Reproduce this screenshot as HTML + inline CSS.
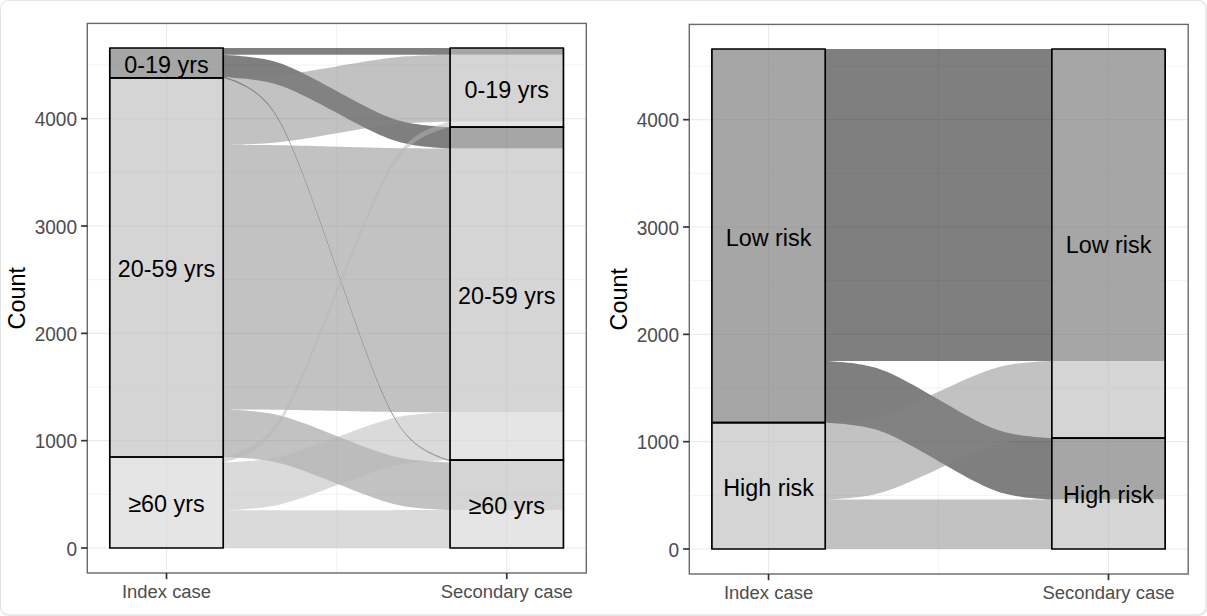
<!DOCTYPE html>
<html><head><meta charset="utf-8"><title>Alluvial</title>
<style>html,body{margin:0;padding:0;background:#fff}svg{display:block}text{font-family:"Liberation Sans",sans-serif}</style>
</head><body>
<svg width="1207" height="616" viewBox="0 0 1207 616">
<rect x="0" y="0" width="1207" height="616" fill="#fff"/>
<rect x="0" y="0" width="1207" height="616" rx="8.5" ry="8.5" fill="#e5e5e5"/>
<rect x="1" y="0.9" width="1204.5" height="613.4" rx="7.6" ry="7.6" fill="#fff"/>
<rect x="87.3" y="23.4" width="499" height="549.6" fill="#fff"/>
<line x1="87.3" x2="586.3" y1="494.33" y2="494.33" stroke="#ebebeb" stroke-width="0.6"/>
<line x1="87.3" x2="586.3" y1="387" y2="387" stroke="#ebebeb" stroke-width="0.6"/>
<line x1="87.3" x2="586.3" y1="279.68" y2="279.68" stroke="#ebebeb" stroke-width="0.6"/>
<line x1="87.3" x2="586.3" y1="172.35" y2="172.35" stroke="#ebebeb" stroke-width="0.6"/>
<line x1="87.3" x2="586.3" y1="65.02" y2="65.02" stroke="#ebebeb" stroke-width="0.6"/>
<line x1="336.62" x2="336.62" y1="23.4" y2="573" stroke="#ebebeb" stroke-width="0.6"/>
<line x1="87.3" x2="586.3" y1="548" y2="548" stroke="#ebebeb" stroke-width="1.2"/>
<line x1="87.3" x2="586.3" y1="440.67" y2="440.67" stroke="#ebebeb" stroke-width="1.2"/>
<line x1="87.3" x2="586.3" y1="333.34" y2="333.34" stroke="#ebebeb" stroke-width="1.2"/>
<line x1="87.3" x2="586.3" y1="226.01" y2="226.01" stroke="#ebebeb" stroke-width="1.2"/>
<line x1="87.3" x2="586.3" y1="118.68" y2="118.68" stroke="#ebebeb" stroke-width="1.2"/>
<line x1="166.5" x2="166.5" y1="23.4" y2="573" stroke="#ebebeb" stroke-width="1.2"/>
<line x1="506.75" x2="506.75" y1="23.4" y2="573" stroke="#ebebeb" stroke-width="1.2"/>
<path d="M109.8,48 L223.2,48 L223.23,48 L223.46,48 L224.04,48 L225.09,48 L226.67,48 L228.82,48 L231.5,48 L234.64,48 L238.12,48 L241.84,48 L245.68,48 L249.54,48 L253.36,48 L257.07,48 L260.66,48 L264.11,48 L267.44,48 L270.65,48 L273.79,48 L276.87,48 L279.94,48 L283.02,48 L286.16,48 L289.36,48 L292.66,48 L296.07,48 L299.59,48 L303.25,48 L307.04,48 L310.97,48 L315.02,48 L319.19,48 L323.46,48 L327.8,48 L332.2,48 L336.62,48 L341.05,48 L345.45,48 L349.79,48 L354.06,48 L358.23,48 L362.28,48 L366.21,48 L370,48 L373.66,48 L377.18,48 L380.59,48 L383.89,48 L387.23,48 L390.5,48 L393.71,48 L396.91,48 L400.14,48 L403.43,48 L406.81,48 L410.33,48 L413.98,48 L417.78,48 L421.71,48 L425.72,48 L429.75,48 L433.69,48 L437.43,48 L440.83,48 L443.78,48 L446.16,48 L447.93,48 L449.1,48 L449.75,48 L450.01,48 L450.05,48 L563.45,48 L563.45,54.85 L450.05,54.85 L450.01,54.85 L449.75,54.85 L449.1,54.85 L447.93,54.85 L446.16,54.85 L443.78,54.85 L440.83,54.85 L437.43,54.85 L433.69,54.85 L429.75,54.85 L425.72,54.85 L421.71,54.85 L417.78,54.85 L413.98,54.85 L410.33,54.85 L406.81,54.85 L403.43,54.85 L400.14,54.85 L396.91,54.85 L393.71,54.85 L390.5,54.85 L387.23,54.85 L383.89,54.85 L380.59,54.85 L377.18,54.85 L373.66,54.85 L370,54.85 L366.21,54.85 L362.28,54.85 L358.23,54.85 L354.06,54.85 L349.79,54.85 L345.45,54.85 L341.05,54.85 L336.62,54.85 L332.2,54.85 L327.8,54.85 L323.46,54.85 L319.19,54.85 L315.02,54.85 L310.97,54.85 L307.04,54.85 L303.25,54.85 L299.59,54.85 L296.07,54.85 L292.66,54.85 L289.36,54.85 L286.16,54.85 L283.02,54.85 L279.94,54.85 L276.87,54.85 L273.79,54.85 L270.65,54.85 L267.44,54.85 L264.11,54.85 L260.66,54.85 L257.07,54.85 L253.36,54.85 L249.54,54.85 L245.68,54.85 L241.84,54.85 L238.12,54.85 L234.64,54.85 L231.5,54.85 L228.82,54.85 L226.67,54.85 L225.09,54.85 L224.04,54.85 L223.46,54.85 L223.23,54.85 L223.2,54.85 L109.8,54.85Z M109.8,54.85 L223.2,54.85 L223.23,54.85 L223.46,54.86 L224.04,54.89 L225.09,54.94 L226.67,55.02 L228.82,55.15 L231.5,55.32 L234.64,55.54 L238.12,55.81 L241.84,56.14 L245.68,56.51 L249.54,56.93 L253.36,57.4 L257.07,57.91 L260.66,58.48 L264.11,59.11 L267.44,59.79 L270.65,60.54 L273.79,61.36 L276.87,62.27 L279.94,63.27 L283.02,64.37 L286.16,65.58 L289.36,66.91 L292.66,68.35 L296.07,69.9 L299.59,71.57 L303.25,73.36 L307.04,75.27 L310.97,77.28 L315.02,79.4 L319.19,81.61 L323.46,83.89 L327.8,86.24 L332.2,88.62 L336.62,91.03 L341.05,93.43 L345.45,95.81 L349.79,98.16 L354.06,100.44 L358.23,102.65 L362.28,104.77 L366.21,106.78 L370,108.69 L373.66,110.48 L377.18,112.15 L380.59,113.7 L383.89,115.14 L387.23,116.52 L390.5,117.78 L393.71,118.92 L396.91,119.94 L400.14,120.87 L403.43,121.71 L406.81,122.48 L410.33,123.17 L413.98,123.8 L417.78,124.37 L421.71,124.88 L425.72,125.35 L429.75,125.76 L433.69,126.12 L437.43,126.42 L440.83,126.67 L443.78,126.86 L446.16,127 L447.93,127.1 L449.1,127.16 L449.75,127.19 L450.01,127.2 L450.05,127.2 L563.45,127.2 L563.45,148.5 L450.05,148.5 L450.01,148.5 L449.75,148.49 L449.1,148.46 L447.93,148.4 L446.16,148.31 L443.78,148.17 L440.83,147.98 L437.43,147.73 L433.69,147.43 L429.75,147.08 L425.72,146.67 L421.71,146.22 L417.78,145.71 L413.98,145.15 L410.33,144.53 L406.81,143.84 L403.43,143.09 L400.14,142.27 L396.91,141.35 L393.71,140.34 L390.5,139.22 L387.23,137.98 L383.89,136.62 L380.59,135.2 L377.18,133.67 L373.66,132.02 L370,130.26 L366.21,128.38 L362.28,126.39 L358.23,124.3 L354.06,122.13 L349.79,119.88 L345.45,117.57 L341.05,115.22 L336.62,112.85 L332.2,110.48 L327.8,108.13 L323.46,105.82 L319.19,103.57 L315.02,101.4 L310.97,99.31 L307.04,97.32 L303.25,95.44 L299.59,93.68 L296.07,92.03 L292.66,90.5 L289.36,89.08 L286.16,87.78 L283.02,86.58 L279.94,85.5 L276.87,84.51 L273.79,83.62 L270.65,82.81 L267.44,82.07 L264.11,81.39 L260.66,80.78 L257.07,80.22 L253.36,79.71 L249.54,79.25 L245.68,78.83 L241.84,78.47 L238.12,78.15 L234.64,77.88 L231.5,77.66 L228.82,77.49 L226.67,77.37 L225.09,77.29 L224.04,77.24 L223.46,77.21 L223.23,77.2 L223.2,77.2 L109.8,77.2Z M109.8,76.7 L223.2,76.7 L223.23,76.71 L223.46,76.76 L224.04,76.89 L225.09,77.17 L226.67,77.62 L228.82,78.28 L231.5,79.19 L234.64,80.36 L238.12,81.8 L241.84,83.5 L245.68,85.47 L249.54,87.7 L253.36,90.18 L257.07,92.92 L260.66,95.93 L264.11,99.23 L267.44,102.85 L270.65,106.81 L273.79,111.17 L276.87,115.98 L279.94,121.27 L283.02,127.1 L286.16,133.52 L289.36,140.53 L292.66,148.15 L296.07,156.37 L299.59,165.23 L303.25,174.7 L307.04,184.79 L310.97,195.46 L315.02,206.67 L319.19,218.36 L323.46,230.44 L327.8,242.85 L332.2,255.47 L336.62,268.2 L341.05,280.93 L345.45,293.55 L349.79,305.96 L354.06,318.04 L358.23,329.73 L362.28,340.94 L366.21,351.61 L370,361.7 L373.66,371.17 L377.18,380.03 L380.59,388.25 L383.89,395.87 L387.23,403.17 L390.5,409.83 L393.71,415.85 L396.91,421.29 L400.14,426.21 L403.43,430.66 L406.81,434.69 L410.33,438.35 L413.98,441.68 L417.78,444.7 L421.71,447.44 L425.72,449.89 L429.75,452.07 L433.69,453.97 L437.43,455.57 L440.83,456.88 L443.78,457.91 L446.16,458.66 L447.93,459.17 L449.1,459.48 L449.75,459.64 L450.01,459.69 L450.05,459.7 L563.45,459.7 L563.45,461.1 L450.05,461.1 L450.01,461.09 L449.75,461.04 L449.1,460.88 L447.93,460.57 L446.16,460.06 L443.78,459.31 L440.83,458.28 L437.43,456.97 L433.69,455.37 L429.75,453.47 L425.72,451.29 L421.71,448.84 L417.78,446.1 L413.98,443.08 L410.33,439.75 L406.81,436.09 L403.43,432.06 L400.14,427.61 L396.91,422.69 L393.71,417.25 L390.5,411.23 L387.23,404.57 L383.89,397.27 L380.59,389.65 L377.18,381.43 L373.66,372.57 L370,363.1 L366.21,353.01 L362.28,342.34 L358.23,331.13 L354.06,319.44 L349.79,307.36 L345.45,294.95 L341.05,282.33 L336.62,269.6 L332.2,256.87 L327.8,244.25 L323.46,231.84 L319.19,219.76 L315.02,208.07 L310.97,196.86 L307.04,186.19 L303.25,176.1 L299.59,166.63 L296.07,157.77 L292.66,149.55 L289.36,141.93 L286.16,134.92 L283.02,128.5 L279.94,122.67 L276.87,117.38 L273.79,112.57 L270.65,108.21 L267.44,104.25 L264.11,100.63 L260.66,97.33 L257.07,94.32 L253.36,91.58 L249.54,89.1 L245.68,86.87 L241.84,84.9 L238.12,83.2 L234.64,81.76 L231.5,80.59 L228.82,79.68 L226.67,79.02 L225.09,78.57 L224.04,78.29 L223.46,78.16 L223.23,78.11 L223.2,78.1 L109.8,78.1Z" fill="#000000" fill-opacity="0.5" fill-rule="nonzero"/>
<path d="M109.8,77.9 L223.2,77.9 L223.23,77.9 L223.46,77.9 L224.04,77.89 L225.09,77.87 L226.67,77.84 L228.82,77.8 L231.5,77.75 L234.64,77.68 L238.12,77.59 L241.84,77.49 L245.68,77.37 L249.54,77.24 L253.36,77.09 L257.07,76.92 L260.66,76.74 L264.11,76.54 L267.44,76.33 L270.65,76.09 L273.79,75.83 L276.87,75.54 L279.94,75.22 L283.02,74.87 L286.16,74.48 L289.36,74.06 L292.66,73.6 L296.07,73.1 L299.59,72.57 L303.25,72 L307.04,71.39 L310.97,70.75 L315.02,70.08 L319.19,69.37 L323.46,68.65 L327.8,67.9 L332.2,67.14 L336.62,66.38 L341.05,65.61 L345.45,64.85 L349.79,64.1 L354.06,63.38 L358.23,62.67 L362.28,62 L366.21,61.36 L370,60.75 L373.66,60.18 L377.18,59.65 L380.59,59.15 L383.89,58.69 L387.23,58.25 L390.5,57.85 L393.71,57.49 L396.91,57.16 L400.14,56.87 L403.43,56.6 L406.81,56.36 L410.33,56.13 L413.98,55.93 L417.78,55.75 L421.71,55.59 L425.72,55.44 L429.75,55.31 L433.69,55.2 L437.43,55.1 L440.83,55.02 L443.78,54.96 L446.16,54.91 L447.93,54.88 L449.1,54.86 L449.75,54.85 L450.01,54.85 L450.05,54.85 L563.45,54.85 L563.45,121.7 L450.05,121.7 L450.01,121.7 L449.75,121.7 L449.1,121.71 L447.93,121.73 L446.16,121.76 L443.78,121.81 L440.83,121.87 L437.43,121.95 L433.69,122.05 L429.75,122.16 L425.72,122.29 L421.71,122.44 L417.78,122.6 L413.98,122.79 L410.33,122.99 L406.81,123.21 L403.43,123.45 L400.14,123.72 L396.91,124.02 L393.71,124.34 L390.5,124.71 L387.23,125.11 L383.89,125.55 L380.59,126.01 L377.18,126.51 L373.66,127.04 L370,127.61 L366.21,128.22 L362.28,128.86 L358.23,129.54 L354.06,130.24 L349.79,130.97 L345.45,131.72 L341.05,132.48 L336.62,133.25 L332.2,134.02 L327.8,134.78 L323.46,135.53 L319.19,136.26 L315.02,136.96 L310.97,137.64 L307.04,138.28 L303.25,138.89 L299.59,139.46 L296.07,139.99 L292.66,140.49 L289.36,140.95 L286.16,141.37 L283.02,141.76 L279.94,142.11 L276.87,142.43 L273.79,142.72 L270.65,142.98 L267.44,143.22 L264.11,143.44 L260.66,143.64 L257.07,143.82 L253.36,143.99 L249.54,144.14 L245.68,144.27 L241.84,144.39 L238.12,144.49 L234.64,144.58 L231.5,144.65 L228.82,144.7 L226.67,144.74 L225.09,144.77 L224.04,144.79 L223.46,144.8 L223.23,144.8 L223.2,144.8 L109.8,144.8Z M109.8,144.8 L223.2,144.8 L223.23,144.8 L223.46,144.8 L224.04,144.8 L225.09,144.8 L226.67,144.81 L228.82,144.82 L231.5,144.82 L234.64,144.84 L238.12,144.85 L241.84,144.87 L245.68,144.88 L249.54,144.91 L253.36,144.93 L257.07,144.96 L260.66,144.99 L264.11,145.02 L267.44,145.05 L270.65,145.09 L273.79,145.13 L276.87,145.18 L279.94,145.23 L283.02,145.29 L286.16,145.35 L289.36,145.42 L292.66,145.49 L296.07,145.57 L299.59,145.66 L303.25,145.75 L307.04,145.84 L310.97,145.95 L315.02,146.06 L319.19,146.17 L323.46,146.29 L327.8,146.41 L332.2,146.53 L336.62,146.65 L341.05,146.77 L345.45,146.89 L349.79,147.01 L354.06,147.13 L358.23,147.24 L362.28,147.35 L366.21,147.46 L370,147.55 L373.66,147.64 L377.18,147.73 L380.59,147.81 L383.89,147.88 L387.23,147.95 L390.5,148.02 L393.71,148.08 L396.91,148.13 L400.14,148.18 L403.43,148.22 L406.81,148.26 L410.33,148.29 L413.98,148.33 L417.78,148.36 L421.71,148.38 L425.72,148.41 L429.75,148.43 L433.69,148.44 L437.43,148.46 L440.83,148.47 L443.78,148.48 L446.16,148.49 L447.93,148.49 L449.1,148.5 L449.75,148.5 L450.01,148.5 L450.05,148.5 L563.45,148.5 L563.45,412.3 L450.05,412.3 L450.01,412.3 L449.75,412.3 L449.1,412.3 L447.93,412.3 L446.16,412.29 L443.78,412.29 L440.83,412.28 L437.43,412.27 L433.69,412.26 L429.75,412.24 L425.72,412.23 L421.71,412.21 L417.78,412.19 L413.98,412.16 L410.33,412.14 L406.81,412.11 L403.43,412.08 L400.14,412.05 L396.91,412.01 L393.71,411.97 L390.5,411.92 L387.23,411.87 L383.89,411.82 L380.59,411.76 L377.18,411.7 L373.66,411.63 L370,411.56 L366.21,411.48 L362.28,411.4 L358.23,411.32 L354.06,411.23 L349.79,411.14 L345.45,411.04 L341.05,410.95 L336.62,410.85 L332.2,410.75 L327.8,410.66 L323.46,410.56 L319.19,410.47 L315.02,410.38 L310.97,410.3 L307.04,410.22 L303.25,410.14 L299.59,410.07 L296.07,410 L292.66,409.94 L289.36,409.88 L286.16,409.83 L283.02,409.78 L279.94,409.74 L276.87,409.7 L273.79,409.66 L270.65,409.63 L267.44,409.6 L264.11,409.57 L260.66,409.55 L257.07,409.52 L253.36,409.5 L249.54,409.48 L245.68,409.47 L241.84,409.45 L238.12,409.44 L234.64,409.43 L231.5,409.42 L228.82,409.41 L226.67,409.41 L225.09,409.4 L224.04,409.4 L223.46,409.4 L223.23,409.4 L223.2,409.4 L109.8,409.4Z M109.8,409.4 L223.2,409.4 L223.23,409.4 L223.46,409.41 L224.04,409.43 L225.09,409.46 L226.67,409.53 L228.82,409.62 L231.5,409.74 L234.64,409.91 L238.12,410.11 L241.84,410.34 L245.68,410.61 L249.54,410.92 L253.36,411.27 L257.07,411.64 L260.66,412.06 L264.11,412.52 L267.44,413.02 L270.65,413.57 L273.79,414.17 L276.87,414.84 L279.94,415.57 L283.02,416.38 L286.16,417.26 L289.36,418.23 L292.66,419.29 L296.07,420.43 L299.59,421.65 L303.25,422.96 L307.04,424.36 L310.97,425.83 L315.02,427.39 L319.19,429 L323.46,430.68 L327.8,432.39 L332.2,434.14 L336.62,435.9 L341.05,437.66 L345.45,439.41 L349.79,441.12 L354.06,442.8 L358.23,444.41 L362.28,445.97 L366.21,447.44 L370,448.84 L373.66,450.15 L377.18,451.37 L380.59,452.51 L383.89,453.57 L387.23,454.58 L390.5,455.5 L393.71,456.33 L396.91,457.09 L400.14,457.77 L403.43,458.38 L406.81,458.94 L410.33,459.45 L413.98,459.91 L417.78,460.32 L421.71,460.7 L425.72,461.04 L429.75,461.34 L433.69,461.61 L437.43,461.83 L440.83,462.01 L443.78,462.15 L446.16,462.26 L447.93,462.33 L449.1,462.37 L449.75,462.39 L450.01,462.4 L450.05,462.4 L563.45,462.4 L563.45,510.1 L450.05,510.1 L450.01,510.1 L449.75,510.09 L449.1,510.07 L447.93,510.03 L446.16,509.96 L443.78,509.85 L440.83,509.71 L437.43,509.53 L433.69,509.3 L429.75,509.04 L425.72,508.74 L421.71,508.4 L417.78,508.02 L413.98,507.6 L410.33,507.14 L406.81,506.63 L403.43,506.07 L400.14,505.46 L396.91,504.78 L393.71,504.02 L390.5,503.19 L387.23,502.26 L383.89,501.25 L380.59,500.19 L377.18,499.05 L373.66,497.83 L370,496.51 L366.21,495.11 L362.28,493.63 L358.23,492.08 L354.06,490.46 L349.79,488.78 L345.45,487.06 L341.05,485.32 L336.62,483.55 L332.2,481.78 L327.8,480.04 L323.46,478.32 L319.19,476.64 L315.02,475.02 L310.97,473.47 L307.04,471.99 L303.25,470.59 L299.59,469.27 L296.07,468.05 L292.66,466.91 L289.36,465.85 L286.16,464.88 L283.02,463.99 L279.94,463.18 L276.87,462.45 L273.79,461.78 L270.65,461.17 L267.44,460.62 L264.11,460.12 L260.66,459.67 L257.07,459.25 L253.36,458.87 L249.54,458.52 L245.68,458.22 L241.84,457.94 L238.12,457.71 L234.64,457.51 L231.5,457.35 L228.82,457.22 L226.67,457.13 L225.09,457.06 L224.04,457.03 L223.46,457.01 L223.23,457 L223.2,457 L109.8,457Z M450.05,461.1 L563.45,461.1 L563.45,462.4 L450.05,462.4Z" fill="#858585" fill-opacity="0.5" fill-rule="nonzero"/>
<path d="M109.8,457 L223.2,457 L223.23,456.99 L223.46,456.95 L224.04,456.83 L225.09,456.59 L226.67,456.2 L228.82,455.62 L231.5,454.82 L234.64,453.8 L238.12,452.54 L241.84,451.04 L245.68,449.32 L249.54,447.37 L253.36,445.2 L257.07,442.8 L260.66,440.17 L264.11,437.28 L267.44,434.11 L270.65,430.64 L273.79,426.82 L276.87,422.61 L279.94,417.98 L283.02,412.87 L286.16,407.26 L289.36,401.12 L292.66,394.45 L296.07,387.25 L299.59,379.5 L303.25,371.2 L307.04,362.37 L310.97,353.03 L315.02,343.22 L319.19,332.99 L323.46,322.4 L327.8,311.54 L332.2,300.5 L336.62,289.35 L341.05,278.2 L345.45,267.16 L349.79,256.3 L354.06,245.71 L358.23,235.48 L362.28,225.67 L366.21,216.33 L370,207.5 L373.66,199.2 L377.18,191.45 L380.59,184.25 L383.89,177.58 L387.23,171.19 L390.5,165.36 L393.71,160.09 L396.91,155.32 L400.14,151.02 L403.43,147.13 L406.81,143.59 L410.33,140.39 L413.98,137.47 L417.78,134.83 L421.71,132.43 L425.72,130.28 L429.75,128.38 L433.69,126.72 L437.43,125.32 L440.83,124.17 L443.78,123.27 L446.16,122.61 L447.93,122.17 L449.1,121.89 L449.75,121.76 L450.01,121.71 L450.05,121.7 L563.45,121.7 L563.45,127.2 L450.05,127.2 L450.01,127.21 L449.75,127.26 L449.1,127.39 L447.93,127.66 L446.16,128.11 L443.78,128.77 L440.83,129.67 L437.43,130.81 L433.69,132.22 L429.75,133.88 L425.72,135.78 L421.71,137.93 L417.78,140.32 L413.98,142.97 L410.33,145.88 L406.81,149.09 L403.43,152.62 L400.14,156.51 L396.91,160.81 L393.71,165.58 L390.5,170.85 L387.23,176.67 L383.89,183.07 L380.59,189.73 L377.18,196.93 L373.66,204.68 L370,212.97 L366.21,221.8 L362.28,231.14 L358.23,240.95 L354.06,251.18 L349.79,261.76 L345.45,272.61 L341.05,283.66 L336.62,294.8 L332.2,305.94 L327.8,316.99 L323.46,327.84 L319.19,338.42 L315.02,348.65 L310.97,358.46 L307.04,367.8 L303.25,376.63 L299.59,384.92 L296.07,392.67 L292.66,399.87 L289.36,406.53 L286.16,412.67 L283.02,418.29 L279.94,423.39 L276.87,428.02 L273.79,432.23 L270.65,436.04 L267.44,439.52 L264.11,442.68 L260.66,445.57 L257.07,448.2 L253.36,450.6 L249.54,452.77 L245.68,454.72 L241.84,456.44 L238.12,457.94 L234.64,459.2 L231.5,460.22 L228.82,461.02 L226.67,461.6 L225.09,461.99 L224.04,462.23 L223.46,462.35 L223.23,462.39 L223.2,462.4 L109.8,462.4Z M109.8,462.4 L223.2,462.4 L223.23,462.4 L223.46,462.39 L224.04,462.37 L225.09,462.34 L226.67,462.28 L228.82,462.19 L231.5,462.07 L234.64,461.92 L238.12,461.73 L241.84,461.51 L245.68,461.25 L249.54,460.96 L253.36,460.64 L257.07,460.28 L260.66,459.88 L264.11,459.45 L267.44,458.98 L270.65,458.46 L273.79,457.89 L276.87,457.26 L279.94,456.57 L283.02,455.81 L286.16,454.97 L289.36,454.05 L292.66,453.05 L296.07,451.98 L299.59,450.82 L303.25,449.58 L307.04,448.26 L310.97,446.86 L315.02,445.4 L319.19,443.87 L323.46,442.29 L327.8,440.67 L332.2,439.02 L336.62,437.35 L341.05,435.68 L345.45,434.03 L349.79,432.41 L354.06,430.83 L358.23,429.3 L362.28,427.84 L366.21,426.44 L370,425.12 L373.66,423.88 L377.18,422.72 L380.59,421.65 L383.89,420.65 L387.23,419.69 L390.5,418.82 L393.71,418.04 L396.91,417.32 L400.14,416.68 L403.43,416.1 L406.81,415.57 L410.33,415.09 L413.98,414.66 L417.78,414.26 L421.71,413.9 L425.72,413.58 L429.75,413.3 L433.69,413.05 L437.43,412.84 L440.83,412.67 L443.78,412.53 L446.16,412.44 L447.93,412.37 L449.1,412.33 L449.75,412.31 L450.01,412.3 L450.05,412.3 L563.45,412.3 L563.45,460.1 L450.05,460.1 L450.01,460.1 L449.75,460.11 L449.1,460.13 L447.93,460.17 L446.16,460.24 L443.78,460.34 L440.83,460.47 L437.43,460.64 L433.69,460.85 L429.75,461.1 L425.72,461.39 L421.71,461.71 L417.78,462.07 L413.98,462.46 L410.33,462.9 L406.81,463.38 L403.43,463.91 L400.14,464.49 L396.91,465.13 L393.71,465.85 L390.5,466.64 L387.23,467.51 L383.89,468.47 L380.59,469.46 L377.18,470.54 L373.66,471.7 L370,472.95 L366.21,474.27 L362.28,475.67 L358.23,477.14 L354.06,478.67 L349.79,480.25 L345.45,481.88 L341.05,483.53 L336.62,485.2 L332.2,486.87 L327.8,488.52 L323.46,490.15 L319.19,491.73 L315.02,493.26 L310.97,494.73 L307.04,496.13 L303.25,497.45 L299.59,498.7 L296.07,499.86 L292.66,500.94 L289.36,501.93 L286.16,502.85 L283.02,503.69 L279.94,504.46 L276.87,505.15 L273.79,505.78 L270.65,506.35 L267.44,506.87 L264.11,507.35 L260.66,507.78 L257.07,508.17 L253.36,508.53 L249.54,508.86 L245.68,509.15 L241.84,509.41 L238.12,509.63 L234.64,509.82 L231.5,509.97 L228.82,510.09 L226.67,510.18 L225.09,510.24 L224.04,510.27 L223.46,510.29 L223.23,510.3 L223.2,510.3 L109.8,510.3Z M109.8,510.3 L223.2,510.3 L223.23,510.3 L223.46,510.3 L224.04,510.3 L225.09,510.3 L226.67,510.3 L228.82,510.3 L231.5,510.3 L234.64,510.3 L238.12,510.3 L241.84,510.3 L245.68,510.3 L249.54,510.29 L253.36,510.29 L257.07,510.29 L260.66,510.29 L264.11,510.29 L267.44,510.29 L270.65,510.28 L273.79,510.28 L276.87,510.28 L279.94,510.28 L283.02,510.27 L286.16,510.27 L289.36,510.27 L292.66,510.26 L296.07,510.26 L299.59,510.25 L303.25,510.25 L307.04,510.24 L310.97,510.24 L315.02,510.23 L319.19,510.23 L323.46,510.22 L327.8,510.21 L332.2,510.21 L336.62,510.2 L341.05,510.19 L345.45,510.19 L349.79,510.18 L354.06,510.17 L358.23,510.17 L362.28,510.16 L366.21,510.16 L370,510.15 L373.66,510.15 L377.18,510.14 L380.59,510.14 L383.89,510.13 L387.23,510.13 L390.5,510.13 L393.71,510.12 L396.91,510.12 L400.14,510.12 L403.43,510.12 L406.81,510.11 L410.33,510.11 L413.98,510.11 L417.78,510.11 L421.71,510.11 L425.72,510.11 L429.75,510.1 L433.69,510.1 L437.43,510.1 L440.83,510.1 L443.78,510.1 L446.16,510.1 L447.93,510.1 L449.1,510.1 L449.75,510.1 L450.01,510.1 L450.05,510.1 L563.45,510.1 L563.45,548 L450.05,548 L450.01,548 L449.75,548 L449.1,548 L447.93,548 L446.16,548 L443.78,548 L440.83,548 L437.43,548 L433.69,548 L429.75,548 L425.72,548 L421.71,548 L417.78,548 L413.98,548 L410.33,548 L406.81,548 L403.43,548 L400.14,548 L396.91,548 L393.71,548 L390.5,548 L387.23,548 L383.89,548 L380.59,548 L377.18,548 L373.66,548 L370,548 L366.21,548 L362.28,548 L358.23,548 L354.06,548 L349.79,548 L345.45,548 L341.05,548 L336.62,548 L332.2,548 L327.8,548 L323.46,548 L319.19,548 L315.02,548 L310.97,548 L307.04,548 L303.25,548 L299.59,548 L296.07,548 L292.66,548 L289.36,548 L286.16,548 L283.02,548 L279.94,548 L276.87,548 L273.79,548 L270.65,548 L267.44,548 L264.11,548 L260.66,548 L257.07,548 L253.36,548 L249.54,548 L245.68,548 L241.84,548 L238.12,548 L234.64,548 L231.5,548 L228.82,548 L226.67,548 L225.09,548 L224.04,548 L223.46,548 L223.23,548 L223.2,548 L109.8,548Z" fill="#b6b6b6" fill-opacity="0.5" fill-rule="nonzero"/>
<rect x="109.8" y="48" width="113.4" height="500" fill="#fff" fill-opacity="0.31"/>
<rect x="109.8" y="48" width="113.4" height="29.9" fill="none" stroke="#000" stroke-width="1.7" stroke-linejoin="round"/>
<rect x="109.8" y="77.9" width="113.4" height="379.1" fill="none" stroke="#000" stroke-width="1.7" stroke-linejoin="round"/>
<rect x="109.8" y="457" width="113.4" height="91" fill="none" stroke="#000" stroke-width="1.7" stroke-linejoin="round"/>
<rect x="450.05" y="48" width="113.4" height="500" fill="#fff" fill-opacity="0.31"/>
<rect x="450.05" y="48" width="113.4" height="79.2" fill="none" stroke="#000" stroke-width="1.7" stroke-linejoin="round"/>
<rect x="450.05" y="127.2" width="113.4" height="332.9" fill="none" stroke="#000" stroke-width="1.7" stroke-linejoin="round"/>
<rect x="450.05" y="460.1" width="113.4" height="87.9" fill="none" stroke="#000" stroke-width="1.7" stroke-linejoin="round"/>
<text transform="translate(166.5,72.85) scale(1,1.045)" font-size="23.35" fill="#000" text-anchor="middle">0-19 yrs</text>
<text transform="translate(166.5,277.35) scale(1,1.045)" font-size="23.35" fill="#000" text-anchor="middle">20-59 yrs</text>
<text transform="translate(166.5,512.4) scale(1,1.045)" font-size="23.35" fill="#000" text-anchor="middle">≥60 yrs</text>
<text transform="translate(506.75,97.5) scale(1,1.045)" font-size="23.35" fill="#000" text-anchor="middle">0-19 yrs</text>
<text transform="translate(506.75,303.55) scale(1,1.045)" font-size="23.35" fill="#000" text-anchor="middle">20-59 yrs</text>
<text transform="translate(506.75,513.95) scale(1,1.045)" font-size="23.35" fill="#000" text-anchor="middle">≥60 yrs</text>
<rect x="87.3" y="23.4" width="499" height="549.6" fill="none" stroke="#696969" stroke-width="1.4"/>
<line x1="81.1" x2="87.3" y1="548" y2="548" stroke="#333333" stroke-width="1.7"/>
<text transform="translate(77,555.75) scale(1,1.04)" font-size="19.05" fill="#4d4d4d" text-anchor="end">0</text>
<line x1="81.1" x2="87.3" y1="440.67" y2="440.67" stroke="#333333" stroke-width="1.7"/>
<text transform="translate(77,448.42) scale(1,1.04)" font-size="19.05" fill="#4d4d4d" text-anchor="end">1000</text>
<line x1="81.1" x2="87.3" y1="333.34" y2="333.34" stroke="#333333" stroke-width="1.7"/>
<text transform="translate(77,341.09) scale(1,1.04)" font-size="19.05" fill="#4d4d4d" text-anchor="end">2000</text>
<line x1="81.1" x2="87.3" y1="226.01" y2="226.01" stroke="#333333" stroke-width="1.7"/>
<text transform="translate(77,233.76) scale(1,1.04)" font-size="19.05" fill="#4d4d4d" text-anchor="end">3000</text>
<line x1="81.1" x2="87.3" y1="118.68" y2="118.68" stroke="#333333" stroke-width="1.7"/>
<text transform="translate(77,126.43) scale(1,1.04)" font-size="19.05" fill="#4d4d4d" text-anchor="end">4000</text>
<line x1="166.5" x2="166.5" y1="573" y2="579.2" stroke="#333333" stroke-width="1.7"/>
<text transform="translate(166.5,598.4) scale(1,1.04)" font-size="18.45" fill="#4d4d4d" text-anchor="middle">Index case</text>
<line x1="506.75" x2="506.75" y1="573" y2="579.2" stroke="#333333" stroke-width="1.7"/>
<text transform="translate(506.75,598.4) scale(1,1.04)" font-size="18.45" fill="#4d4d4d" text-anchor="middle">Secondary case</text>
<text transform="translate(24.9,298.2) rotate(-90)" font-size="23.4" fill="#000" text-anchor="middle">Count</text>
<rect x="689.3" y="24.4" width="498.9" height="549.6" fill="#fff"/>
<line x1="689.3" x2="1188.2" y1="495.33" y2="495.33" stroke="#ebebeb" stroke-width="0.6"/>
<line x1="689.3" x2="1188.2" y1="388" y2="388" stroke="#ebebeb" stroke-width="0.6"/>
<line x1="689.3" x2="1188.2" y1="280.68" y2="280.68" stroke="#ebebeb" stroke-width="0.6"/>
<line x1="689.3" x2="1188.2" y1="173.35" y2="173.35" stroke="#ebebeb" stroke-width="0.6"/>
<line x1="689.3" x2="1188.2" y1="66.02" y2="66.02" stroke="#ebebeb" stroke-width="0.6"/>
<line x1="938.52" x2="938.52" y1="24.4" y2="574" stroke="#ebebeb" stroke-width="0.6"/>
<line x1="689.3" x2="1188.2" y1="549" y2="549" stroke="#ebebeb" stroke-width="1.2"/>
<line x1="689.3" x2="1188.2" y1="441.67" y2="441.67" stroke="#ebebeb" stroke-width="1.2"/>
<line x1="689.3" x2="1188.2" y1="334.34" y2="334.34" stroke="#ebebeb" stroke-width="1.2"/>
<line x1="689.3" x2="1188.2" y1="227.01" y2="227.01" stroke="#ebebeb" stroke-width="1.2"/>
<line x1="689.3" x2="1188.2" y1="119.68" y2="119.68" stroke="#ebebeb" stroke-width="1.2"/>
<line x1="768.55" x2="768.55" y1="24.4" y2="574" stroke="#ebebeb" stroke-width="1.2"/>
<line x1="1108.5" x2="1108.5" y1="24.4" y2="574" stroke="#ebebeb" stroke-width="1.2"/>
<path d="M711.9,49 L825.2,49 L825.23,49 L825.46,49 L826.04,49 L827.08,49 L828.67,49 L830.82,49 L833.5,49 L836.63,49 L840.11,49 L843.83,49 L847.66,49 L851.52,49 L855.33,49 L859.04,49 L862.63,49 L866.07,49 L869.4,49 L872.61,49 L875.74,49 L878.82,49 L881.89,49 L884.97,49 L888.1,49 L891.31,49 L894.6,49 L898,49 L901.52,49 L905.18,49 L908.97,49 L912.89,49 L916.94,49 L921.1,49 L925.37,49 L929.71,49 L934.1,49 L938.52,49 L942.95,49 L947.34,49 L951.68,49 L955.95,49 L960.11,49 L964.16,49 L968.08,49 L971.87,49 L975.53,49 L979.05,49 L982.45,49 L985.74,49 L989.09,49 L992.35,49 L995.56,49 L998.76,49 L1001.98,49 L1005.27,49 L1008.65,49 L1012.16,49 L1015.81,49 L1019.61,49 L1023.53,49 L1027.54,49 L1031.57,49 L1035.51,49 L1039.24,49 L1042.64,49 L1045.58,49 L1047.96,49 L1049.73,49 L1050.9,49 L1051.56,49 L1051.81,49 L1051.85,49 L1165.15,49 L1165.15,360.9 L1051.85,360.9 L1051.81,360.9 L1051.56,360.9 L1050.9,360.9 L1049.73,360.9 L1047.96,360.9 L1045.58,360.9 L1042.64,360.9 L1039.24,360.9 L1035.51,360.9 L1031.57,360.9 L1027.54,360.9 L1023.53,360.9 L1019.61,360.9 L1015.81,360.9 L1012.16,360.9 L1008.65,360.9 L1005.27,360.9 L1001.98,360.9 L998.76,360.9 L995.56,360.9 L992.35,360.9 L989.09,360.9 L985.74,360.9 L982.45,360.9 L979.05,360.9 L975.53,360.9 L971.87,360.9 L968.08,360.9 L964.16,360.9 L960.11,360.9 L955.95,360.9 L951.68,360.9 L947.34,360.9 L942.95,360.9 L938.52,360.9 L934.1,360.9 L929.71,360.9 L925.37,360.9 L921.1,360.9 L916.94,360.9 L912.89,360.9 L908.97,360.9 L905.18,360.9 L901.52,360.9 L898,360.9 L894.6,360.9 L891.31,360.9 L888.1,360.9 L884.97,360.9 L881.89,360.9 L878.82,360.9 L875.74,360.9 L872.61,360.9 L869.4,360.9 L866.07,360.9 L862.63,360.9 L859.04,360.9 L855.33,360.9 L851.52,360.9 L847.66,360.9 L843.83,360.9 L840.11,360.9 L836.63,360.9 L833.5,360.9 L830.82,360.9 L828.67,360.9 L827.08,360.9 L826.04,360.9 L825.46,360.9 L825.23,360.9 L825.2,360.9 L711.9,360.9Z M711.9,360.9 L825.2,360.9 L825.23,360.9 L825.46,360.91 L826.04,360.94 L827.08,360.99 L828.67,361.08 L830.82,361.22 L833.5,361.4 L836.63,361.64 L840.11,361.93 L843.83,362.27 L847.66,362.67 L851.52,363.12 L855.33,363.62 L859.04,364.17 L862.63,364.78 L866.07,365.44 L869.4,366.17 L872.61,366.97 L875.74,367.85 L878.82,368.82 L881.89,369.88 L884.97,371.06 L888.1,372.35 L891.31,373.77 L894.6,375.3 L898,376.96 L901.52,378.74 L905.18,380.65 L908.97,382.69 L912.89,384.84 L916.94,387.1 L921.1,389.45 L925.37,391.89 L929.71,394.39 L934.1,396.93 L938.52,399.5 L942.95,402.07 L947.34,404.61 L951.68,407.11 L955.95,409.55 L960.11,411.9 L964.16,414.16 L968.08,416.31 L971.87,418.35 L975.53,420.26 L979.05,422.04 L982.45,423.7 L985.74,425.23 L989.09,426.71 L992.35,428.05 L995.56,429.26 L998.76,430.36 L1001.98,431.35 L1005.27,432.25 L1008.65,433.06 L1012.16,433.8 L1015.81,434.47 L1019.61,435.08 L1023.53,435.63 L1027.54,436.12 L1031.57,436.56 L1035.51,436.94 L1039.24,437.27 L1042.64,437.53 L1045.58,437.74 L1047.96,437.89 L1049.73,437.99 L1050.9,438.06 L1051.56,438.09 L1051.81,438.1 L1051.85,438.1 L1165.15,438.1 L1165.15,499.6 L1051.85,499.6 L1051.81,499.6 L1051.56,499.59 L1050.9,499.56 L1049.73,499.49 L1047.96,499.39 L1045.58,499.24 L1042.64,499.03 L1039.24,498.77 L1035.51,498.45 L1031.57,498.07 L1027.54,497.63 L1023.53,497.14 L1019.61,496.59 L1015.81,495.98 L1012.16,495.31 L1008.65,494.58 L1005.27,493.77 L1001.98,492.88 L998.76,491.89 L995.56,490.8 L992.35,489.59 L989.09,488.25 L985.74,486.78 L982.45,485.25 L979.05,483.6 L975.53,481.83 L971.87,479.92 L968.08,477.9 L964.16,475.75 L960.11,473.5 L955.95,471.16 L951.68,468.73 L947.34,466.24 L942.95,463.71 L938.52,461.15 L934.1,458.59 L929.71,456.06 L925.37,453.57 L921.1,451.14 L916.94,448.8 L912.89,446.55 L908.97,444.4 L905.18,442.38 L901.52,440.47 L898,438.7 L894.6,437.05 L891.31,435.52 L888.1,434.11 L884.97,432.82 L881.89,431.65 L878.82,430.59 L875.74,429.62 L872.61,428.75 L869.4,427.95 L866.07,427.22 L862.63,426.56 L859.04,425.96 L855.33,425.41 L851.52,424.91 L847.66,424.46 L843.83,424.07 L840.11,423.72 L836.63,423.43 L833.5,423.2 L830.82,423.02 L828.67,422.88 L827.08,422.79 L826.04,422.74 L825.46,422.71 L825.23,422.7 L825.2,422.7 L711.9,422.7Z" fill="#000000" fill-opacity="0.5" fill-rule="nonzero"/>
<path d="M711.9,422.7 L825.2,422.7 L825.23,422.7 L825.46,422.69 L826.04,422.67 L827.08,422.62 L828.67,422.55 L830.82,422.44 L833.5,422.3 L836.63,422.11 L840.11,421.88 L843.83,421.6 L847.66,421.28 L851.52,420.93 L855.33,420.53 L859.04,420.08 L862.63,419.6 L866.07,419.06 L869.4,418.48 L872.61,417.84 L875.74,417.14 L878.82,416.36 L881.89,415.51 L884.97,414.57 L888.1,413.53 L891.31,412.4 L894.6,411.17 L898,409.84 L901.52,408.42 L905.18,406.89 L908.97,405.26 L912.89,403.54 L916.94,401.73 L921.1,399.84 L925.37,397.89 L929.71,395.89 L934.1,393.85 L938.52,391.8 L942.95,389.75 L947.34,387.71 L951.68,385.71 L955.95,383.76 L960.11,381.87 L964.16,380.06 L968.08,378.34 L971.87,376.71 L975.53,375.18 L979.05,373.76 L982.45,372.43 L985.74,371.2 L989.09,370.02 L992.35,368.95 L995.56,367.98 L998.76,367.1 L1001.98,366.3 L1005.27,365.59 L1008.65,364.94 L1012.16,364.34 L1015.81,363.81 L1019.61,363.32 L1023.53,362.88 L1027.54,362.48 L1031.57,362.13 L1035.51,361.83 L1039.24,361.57 L1042.64,361.35 L1045.58,361.19 L1047.96,361.07 L1049.73,360.99 L1050.9,360.94 L1051.56,360.91 L1051.81,360.9 L1051.85,360.9 L1165.15,360.9 L1165.15,438.1 L1051.85,438.1 L1051.81,438.1 L1051.56,438.11 L1050.9,438.14 L1049.73,438.19 L1047.96,438.27 L1045.58,438.39 L1042.64,438.55 L1039.24,438.76 L1035.51,439.02 L1031.57,439.32 L1027.54,439.67 L1023.53,440.07 L1019.61,440.51 L1015.81,440.99 L1012.16,441.53 L1008.65,442.12 L1005.27,442.76 L1001.98,443.48 L998.76,444.27 L995.56,445.14 L992.35,446.11 L989.09,447.18 L985.74,448.35 L982.45,449.57 L979.05,450.89 L975.53,452.32 L971.87,453.84 L968.08,455.46 L964.16,457.17 L960.11,458.97 L955.95,460.85 L951.68,462.79 L947.34,464.78 L942.95,466.81 L938.52,468.85 L934.1,470.89 L929.71,472.92 L925.37,474.91 L921.1,476.85 L916.94,478.73 L912.89,480.53 L908.97,482.24 L905.18,483.86 L901.52,485.38 L898,486.81 L894.6,488.13 L891.31,489.35 L888.1,490.48 L884.97,491.51 L881.89,492.44 L878.82,493.29 L875.74,494.06 L872.61,494.76 L869.4,495.4 L866.07,495.98 L862.63,496.51 L859.04,497 L855.33,497.44 L851.52,497.83 L847.66,498.19 L843.83,498.51 L840.11,498.78 L836.63,499.01 L833.5,499.2 L830.82,499.35 L828.67,499.45 L827.08,499.53 L826.04,499.57 L825.46,499.59 L825.23,499.6 L825.2,499.6 L711.9,499.6Z M711.9,499.6 L825.2,499.6 L825.23,499.6 L825.46,499.6 L826.04,499.6 L827.08,499.6 L828.67,499.6 L830.82,499.6 L833.5,499.6 L836.63,499.6 L840.11,499.6 L843.83,499.6 L847.66,499.6 L851.52,499.6 L855.33,499.6 L859.04,499.6 L862.63,499.6 L866.07,499.6 L869.4,499.6 L872.61,499.6 L875.74,499.6 L878.82,499.6 L881.89,499.6 L884.97,499.6 L888.1,499.6 L891.31,499.6 L894.6,499.6 L898,499.6 L901.52,499.6 L905.18,499.6 L908.97,499.6 L912.89,499.6 L916.94,499.6 L921.1,499.6 L925.37,499.6 L929.71,499.6 L934.1,499.6 L938.52,499.6 L942.95,499.6 L947.34,499.6 L951.68,499.6 L955.95,499.6 L960.11,499.6 L964.16,499.6 L968.08,499.6 L971.87,499.6 L975.53,499.6 L979.05,499.6 L982.45,499.6 L985.74,499.6 L989.09,499.6 L992.35,499.6 L995.56,499.6 L998.76,499.6 L1001.98,499.6 L1005.27,499.6 L1008.65,499.6 L1012.16,499.6 L1015.81,499.6 L1019.61,499.6 L1023.53,499.6 L1027.54,499.6 L1031.57,499.6 L1035.51,499.6 L1039.24,499.6 L1042.64,499.6 L1045.58,499.6 L1047.96,499.6 L1049.73,499.6 L1050.9,499.6 L1051.56,499.6 L1051.81,499.6 L1051.85,499.6 L1165.15,499.6 L1165.15,549 L1051.85,549 L1051.81,549 L1051.56,549 L1050.9,549 L1049.73,549 L1047.96,549 L1045.58,549 L1042.64,549 L1039.24,549 L1035.51,549 L1031.57,549 L1027.54,549 L1023.53,549 L1019.61,549 L1015.81,549 L1012.16,549 L1008.65,549 L1005.27,549 L1001.98,549 L998.76,549 L995.56,549 L992.35,549 L989.09,549 L985.74,549 L982.45,549 L979.05,549 L975.53,549 L971.87,549 L968.08,549 L964.16,549 L960.11,549 L955.95,549 L951.68,549 L947.34,549 L942.95,549 L938.52,549 L934.1,549 L929.71,549 L925.37,549 L921.1,549 L916.94,549 L912.89,549 L908.97,549 L905.18,549 L901.52,549 L898,549 L894.6,549 L891.31,549 L888.1,549 L884.97,549 L881.89,549 L878.82,549 L875.74,549 L872.61,549 L869.4,549 L866.07,549 L862.63,549 L859.04,549 L855.33,549 L851.52,549 L847.66,549 L843.83,549 L840.11,549 L836.63,549 L833.5,549 L830.82,549 L828.67,549 L827.08,549 L826.04,549 L825.46,549 L825.23,549 L825.2,549 L711.9,549Z" fill="#858585" fill-opacity="0.5" fill-rule="nonzero"/>
<rect x="711.9" y="49" width="113.3" height="500" fill="#fff" fill-opacity="0.31"/>
<rect x="711.9" y="49" width="113.3" height="373.7" fill="none" stroke="#000" stroke-width="1.7" stroke-linejoin="round"/>
<rect x="711.9" y="422.7" width="113.3" height="126.3" fill="none" stroke="#000" stroke-width="1.7" stroke-linejoin="round"/>
<rect x="1051.85" y="49" width="113.3" height="500" fill="#fff" fill-opacity="0.31"/>
<rect x="1051.85" y="49" width="113.3" height="389.1" fill="none" stroke="#000" stroke-width="1.7" stroke-linejoin="round"/>
<rect x="1051.85" y="438.1" width="113.3" height="110.9" fill="none" stroke="#000" stroke-width="1.7" stroke-linejoin="round"/>
<text transform="translate(768.55,245.75) scale(1,1.045)" font-size="23.35" fill="#000" text-anchor="middle">Low risk</text>
<text transform="translate(768.55,495.75) scale(1,1.045)" font-size="23.35" fill="#000" text-anchor="middle">High risk</text>
<text transform="translate(1108.5,253.45) scale(1,1.045)" font-size="23.35" fill="#000" text-anchor="middle">Low risk</text>
<text transform="translate(1108.5,503.45) scale(1,1.045)" font-size="23.35" fill="#000" text-anchor="middle">High risk</text>
<rect x="689.3" y="24.4" width="498.9" height="549.6" fill="none" stroke="#696969" stroke-width="1.4"/>
<line x1="683.1" x2="689.3" y1="549" y2="549" stroke="#333333" stroke-width="1.7"/>
<text transform="translate(679,556.75) scale(1,1.04)" font-size="19.05" fill="#4d4d4d" text-anchor="end">0</text>
<line x1="683.1" x2="689.3" y1="441.67" y2="441.67" stroke="#333333" stroke-width="1.7"/>
<text transform="translate(679,449.42) scale(1,1.04)" font-size="19.05" fill="#4d4d4d" text-anchor="end">1000</text>
<line x1="683.1" x2="689.3" y1="334.34" y2="334.34" stroke="#333333" stroke-width="1.7"/>
<text transform="translate(679,342.09) scale(1,1.04)" font-size="19.05" fill="#4d4d4d" text-anchor="end">2000</text>
<line x1="683.1" x2="689.3" y1="227.01" y2="227.01" stroke="#333333" stroke-width="1.7"/>
<text transform="translate(679,234.76) scale(1,1.04)" font-size="19.05" fill="#4d4d4d" text-anchor="end">3000</text>
<line x1="683.1" x2="689.3" y1="119.68" y2="119.68" stroke="#333333" stroke-width="1.7"/>
<text transform="translate(679,127.43) scale(1,1.04)" font-size="19.05" fill="#4d4d4d" text-anchor="end">4000</text>
<line x1="768.55" x2="768.55" y1="574" y2="580.2" stroke="#333333" stroke-width="1.7"/>
<text transform="translate(768.55,599.4) scale(1,1.04)" font-size="18.45" fill="#4d4d4d" text-anchor="middle">Index case</text>
<line x1="1108.5" x2="1108.5" y1="574" y2="580.2" stroke="#333333" stroke-width="1.7"/>
<text transform="translate(1108.5,599.4) scale(1,1.04)" font-size="18.45" fill="#4d4d4d" text-anchor="middle">Secondary case</text>
<text transform="translate(626.9,299.2) rotate(-90)" font-size="23.4" fill="#000" text-anchor="middle">Count</text>
</svg>
</body></html>
